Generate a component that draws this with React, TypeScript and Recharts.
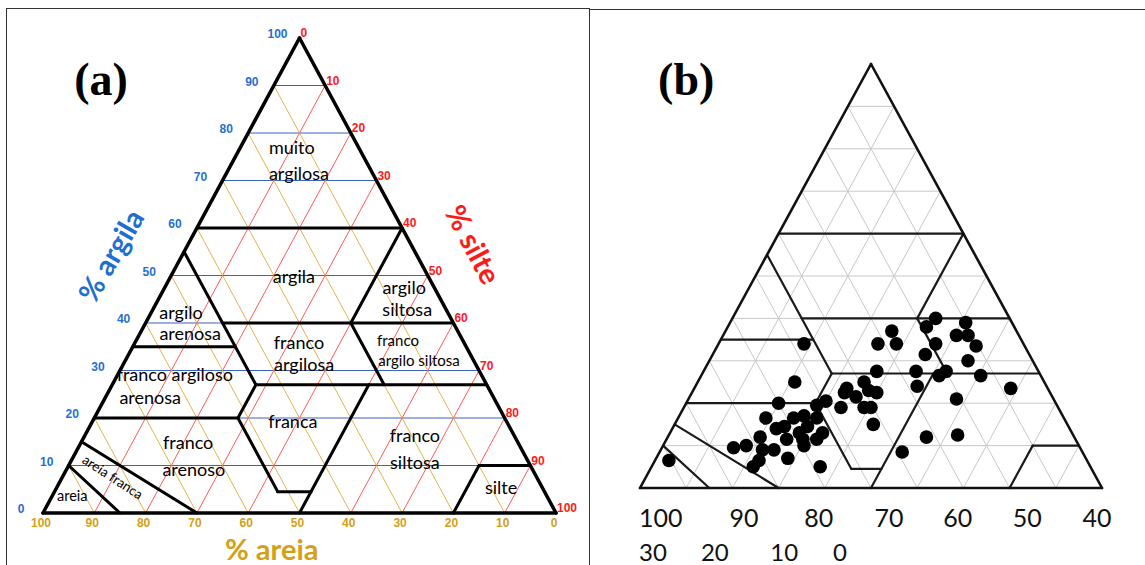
import React from "react";
import { ScatterChart, Scatter, XAxis, YAxis, ReferenceLine, ReferenceDot } from "recharts";

// ternary helpers: x runs from the 100% sand corner (0) to the 100% silt corner (100), y = clay
const toXY = (clay: number, silt: number) => ({ x: silt + clay / 2, y: clay });

const gridSteps = [10, 20, 30, 40, 50, 60, 70, 80, 90];
const tickSteps = [0, 10, 20, 30, 40, 50, 60, 70, 80, 90, 100];

// texture class boundaries: [clayFrom, siltFrom, clayTo, siltTo]
const classBoundaries: [number, number, number, number][] = [
  [60, 0, 60, 40],
  [55, 0, 27, 28],
  [60, 40, 40, 40],
  [40, 15, 40, 60],
  [40, 40, 27, 53],
  [27, 28, 27, 73],
  [35, 0, 35, 20],
  [27, 28, 20, 28],
  [20, 0, 20, 28],
  [20, 28, 4.5, 43.5],
  [4.5, 43.5, 4.5, 50],
  [27, 50, 0, 50],
  [0, 80, 10, 80],
  [10, 80, 10, 90],
  [15, 0, 0, 30],
  [10, 0, 0, 15],
];

const outline: [number, number, number, number][] = [
  [0, 0, 0, 100],
  [0, 100, 100, 0],
  [100, 0, 0, 0],
];

// samples in panel (b), % clay and % silt
const sampleClay = [
  40, 38, 39, 36, 36, 33.5, 37, 34, 34, 34, 31.5, 30, 27.5, 27.5, 24, 26.5, 27.5, 26.5, 23.5, 21,
  25, 23.5, 22.5, 23, 21.5, 19, 19, 19, 15, 12, 12.5, 8.5,
  34, 25, 20, 16.5, 6.5, 9.5, 10, 12, 14, 14.5, 11.5, 16.5, 17, 19.5, 20.5, 22.5, 16.5, 14.5,
  13, 11.5, 10, 9, 9, 7, 6.5, 5, 5, 13, 11.5,
];
const sampleSilt = [
  44, 43, 51, 53, 50.5, 56, 36, 38.5, 34.5, 47, 46, 56, 37.5, 46, 48, 51.5, 52.5, 60.5, 68.5, 58,
  36, 33, 40, 38, 36, 34, 39, 40.5, 43, 56, 62.5, 52.5,
  18.5, 21, 20, 19, 3, 15.5, 18, 20, 22.5, 24, 26, 25, 27, 28.5, 30, 33, 30, 29,
  33, 32.5, 30.5, 22, 24.5, 28.5, 22.5, 22, 36.5, 28, 29.5,
];

// panel (a) class names
const classLabelsA = [
  { text: "muito", x: 48.5, y: 77.1, size: 18 },
  { text: "argilosa", x: 49.9, y: 71.6, size: 18 },
  { text: "argila", x: 48.9, y: 49.9, size: 18 },
  { text: "argilo", x: 26.9, y: 42.3, size: 18 },
  { text: "arenosa", x: 28.7, y: 37.9, size: 18 },
  { text: "argilo", x: 70.4, y: 47.6, size: 18 },
  { text: "siltosa", x: 71.0, y: 42.9, size: 18 },
  { text: "franco", x: 49.9, y: 36.0, size: 18 },
  { text: "argilosa", x: 50.9, y: 31.4, size: 18 },
  { text: "franco", x: 69.2, y: 36.4, size: 15 },
  { text: "argilo siltosa", x: 73.3, y: 32.2, size: 15 },
  { text: "franco argiloso", x: 25.7, y: 29.3, size: 18 },
  { text: "arenosa", x: 20.9, y: 24.4, size: 18 },
  { text: "franca", x: 48.7, y: 19.4, size: 18 },
  { text: "franco", x: 28.3, y: 14.9, size: 18 },
  { text: "arenoso", x: 29.4, y: 9.3, size: 18 },
  { text: "franco", x: 72.5, y: 16.4, size: 18 },
  { text: "siltosa", x: 72.5, y: 10.7, size: 18 },
  { text: "silte", x: 89.3, y: 5.5, size: 18 },
  { text: "areia", x: 5.7, y: 3.6, size: 14.5 },
];

// panel (b) labels under the triangle
const bRow1 = ["100", "90", "80", "70", "60", "50", "40"];
const bRow1X = [4.5, 22.5, 38.7, 53.9, 68.8, 83.8, 98.9];
const bRow2 = ["30", "20", "10", "0"];
const bRow2X = [2.8, 16.2, 31.2, 43.3];

const BLUE = "#1f6fd0";
const RED = "#ff1a1a";
const GOLD = "#d4a017";

type TextOpts = {
  size: number;
  color?: string;
  weight?: string | number;
  family?: string;
  anchor?: "start" | "middle" | "end";
  dx?: number;
  dy?: number;
  rotate?: number;
  baseline?: string;
};

const TextDot = (key: string, x: number, y: number, text: string, o: TextOpts) => (
  <ReferenceDot
    key={key}
    x={x}
    y={y}
    ifOverflow="visible"
    shape={(p: any) => (
      <text
        x={p.cx + (o.dx || 0)}
        y={p.cy + (o.dy || 0)}
        fontSize={o.size}
        fill={o.color || "#000"}
        fontWeight={o.weight || "normal"}
        fontFamily={o.family || "Lato, 'Open Sans', sans-serif"}
        textAnchor={o.anchor || "middle"}
        dominantBaseline={o.baseline || "central"}
        transform={o.rotate ? `rotate(${o.rotate} ${p.cx} ${p.cy})` : undefined}
      >
        {text}
      </text>
    )}
  />
);

const Seg = (key: string, c1: number, s1: number, c2: number, s2: number, stroke: string, width: number) => (
  <ReferenceLine
    key={key}
    segment={[toXY(c1, s1), toXY(c2, s2)]}
    stroke={stroke}
    strokeWidth={width}
    strokeLinecap="round"
    ifOverflow="visible"
  />
);

const Axes = () => [
  <XAxis key="x" type="number" dataKey="x" domain={[0, 100]} hide allowDataOverflow />,
  <YAxis key="y" type="number" dataKey="y" domain={[0, 100]} hide allowDataOverflow />,
];

const tickFont = "'Liberation Sans', Arial, sans-serif";

const PanelA = () => (
  <ScatterChart width={590} height={565} margin={{ top: 38, right: 34, bottom: 52, left: 43 }}>
    {Axes()}
    {gridSteps.map((c) => Seg(`b${c}`, c, 0, c, 100 - c, "#3d62bd", 1))}
    {gridSteps.map((s) => Seg(`r${s}`, 0, s, 100 - s, s, "#ff3030", 0.8))}
    {gridSteps.map((a) => Seg(`o${a}`, 0, 100 - a, 100 - a, 0, "#deaa3a", 0.9))}
    {classBoundaries.map((b, i) => Seg(`cb${i}`, b[0], b[1], b[2], b[3], "#000", 3))}
    {outline.map((b, i) => Seg(`ol${i}`, b[0], b[1], b[2], b[3], "#000", 3.5))}
    {tickSteps.map((c) => {
      const p = toXY(c, 0);
      return TextDot(`tc${c}`, p.x, p.y, String(c), {
        size: 12, color: BLUE, weight: "bold", family: tickFont, dx: -22, dy: -4,
      });
    })}
    {tickSteps.map((s) => {
      const p = toXY(100 - s, s);
      return TextDot(`ts${s}`, p.x, p.y, String(s), {
        size: 12, color: RED, weight: "bold", family: tickFont, anchor: "start", dx: 1, dy: -5,
      });
    })}
    {tickSteps.map((a) => {
      const p = toXY(0, 100 - a);
      return TextDot(`ta${a}`, p.x, p.y, String(a), {
        size: 12, color: GOLD, weight: "bold", family: tickFont, dx: -2, dy: 10,
      });
    })}
    {classLabelsA.map((l, i) => TextDot(`cl${i}`, l.x, l.y, l.text, { size: l.size }))}
    {TextDot("af", 13.6, 7.6, "areia franca", { size: 13.5, rotate: 33 })}
    {TextDot("tArg", 13.1, 54.3, "% argila", { size: 29, color: BLUE, weight: "bold", rotate: -60 })}
    {TextDot("tSil", 84.0, 56.6, "% silte", { size: 29, color: RED, weight: "bold", rotate: 62 })}
    {TextDot("tAre", 44.6, -7.4, "% areia", { size: 29, color: GOLD, weight: "bold" })}
    {TextDot("pa", 11.3, 88, "(a)", {
      size: 46, weight: "bold", family: "'Liberation Serif', 'Times New Roman', serif", baseline: "alphabetic",
    })}
  </ScatterChart>
);

const points = sampleClay.map((c, i) => toXY(c, sampleSilt[i]));

const PanelB = () => (
  <ScatterChart width={555} height={565} margin={{ top: 64, right: 43, bottom: 77, left: 50 }}>
    {Axes()}
    {gridSteps.map((c) => Seg(`b${c}`, c, 0, c, 100 - c, "#c8c8c8", 1))}
    {gridSteps.map((s) => Seg(`r${s}`, 0, s, 100 - s, s, "#c8c8c8", 1))}
    {gridSteps.map((a) => Seg(`o${a}`, 0, 100 - a, 100 - a, 0, "#c8c8c8", 1))}
    {classBoundaries.map((b, i) => Seg(`cb${i}`, b[0], b[1], b[2], b[3], "#1a1a1a", 2.2))}
    {outline.map((b, i) => Seg(`ol${i}`, b[0], b[1], b[2], b[3], "#111", 2.6))}
    <Scatter
      data={points}
      isAnimationActive={false}
      shape={(p: any) => <circle cx={p.cx} cy={p.cy} r={6.8} fill="#000" />}
    />
    {bRow1.map((t, i) => TextDot(`r1${i}`, bRow1X[i], -6.8, t, { size: 25, color: "#111" }))}
    {bRow2.map((t, i) => TextDot(`r2${i}`, bRow2X[i], -14.9, t, { size: 24, color: "#111" }))}
    {TextDot("pb", 10, 92.7, "(b)", {
      size: 46, weight: "bold", family: "'Liberation Serif', 'Times New Roman', serif", baseline: "alphabetic",
    })}
  </ScatterChart>
);

export default function App() {
  return (
    <div style={{ position: "absolute", left: 0, top: 0, width: 1145, height: 565, background: "#fff", overflow: "hidden" }}>
      <div style={{ position: "absolute", left: 6, top: 8, width: 584, height: 600, border: "1.5px solid #333", boxSizing: "border-box" }} />
      <div style={{ position: "absolute", left: 590, top: 9, width: 555, height: 0, borderTop: "1.5px solid #333" }} />
      <div style={{ position: "absolute", left: 0, top: 0 }}>
        <PanelA />
      </div>
      <div style={{ position: "absolute", left: 590, top: 0 }}>
        <PanelB />
      </div>
    </div>
  );
}
